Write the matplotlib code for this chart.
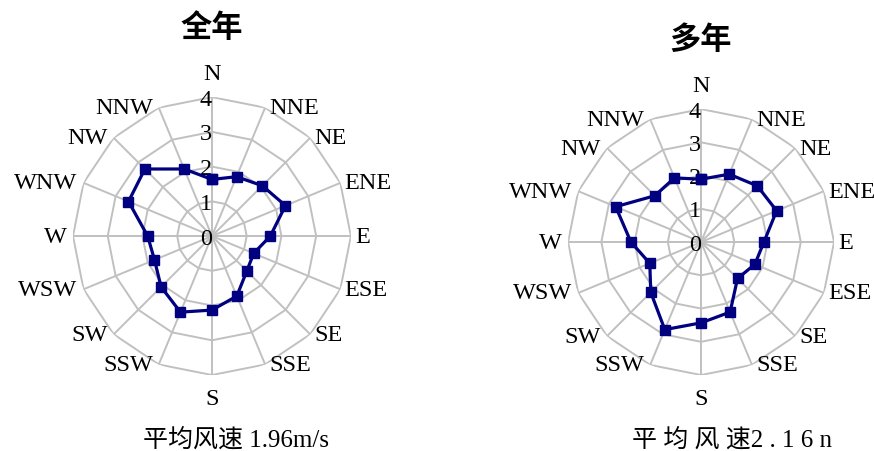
import numpy as np
import matplotlib
matplotlib.use("Agg")
import matplotlib.pyplot as plt

plt.rcParams['font.family'] = ['Liberation Serif', 'Noto Sans CJK SC']

directions = ['N', 'NNE', 'NE', 'ENE', 'E', 'ESE', 'SE', 'SSE',
              'S', 'SSW', 'SW', 'WSW', 'W', 'WNW', 'NW', 'NNW']
annual_speed = [1.63, 1.85, 2.05, 2.29, 1.68, 1.30, 1.42, 1.87,
                2.13, 2.37, 2.07, 1.79, 1.85, 2.60, 2.73, 2.09]
multiyear_speed = [1.89, 2.21, 2.39, 2.46, 1.89, 1.75, 1.55, 2.28,
                   2.43, 2.85, 2.14, 1.67, 2.11, 2.78, 1.97, 2.09]
radial_ticks = [0, 1, 2, 3, 4]
titles = ['全年', '多年']
captions = ['平均风速 1.96m/s', '平 均 风 速2 . 1 6 n']

GRID = '#c0c0c0'
LINE = '#000080'
LABEL_SIZE = 17.5

fig = plt.figure(figsize=(8.74, 4.52), dpi=100)


def rose(rect, values, title, title_y):
    ax = fig.add_axes(rect, projection='polar')
    ax.set_theta_zero_location('N')
    ax.set_theta_direction(-1)
    ax.set_ylim(0, 4)
    ax.grid(False)
    ax.spines['polar'].set_visible(False)
    ax.set_xticks([])
    ax.set_yticks([])
    ax.patch.set_alpha(0)

    n = len(directions)
    theta = np.arange(n) * 2 * np.pi / n
    closed = np.append(theta, theta[0])

    # polygonal rings and spokes
    for r in radial_ticks[1:]:
        ax.plot(closed, [r] * (n + 1), color=GRID, lw=1.4, zorder=1)
    for t in theta:
        ax.plot([t, t], [0, 4], color=GRID, lw=1.4, zorder=1)

    # radial scale labels along the north spoke
    for r in radial_ticks:
        ax.annotate(str(r), xy=(0, r), xytext=(0, -2), textcoords='offset pixels',
                    ha='right', va='center', fontsize=LABEL_SIZE, zorder=2)

    # direction labels just outside the outer ring
    for t, name in zip(theta, directions):
        deg = np.degrees(t)
        if np.isclose(deg, 0):
            ha, va, off = 'center', 'bottom', (0, 13)
        elif np.isclose(deg, 180):
            ha, va, off = 'center', 'top', (0, -13)
        elif deg < 180:
            ha, va, off = 'left', 'center', (4, 0)
        else:
            ha, va, off = 'right', 'center', (-6, 0)
        ax.annotate(name, xy=(t, 4), xytext=off, textcoords='offset pixels',
                    ha=ha, va=va, fontsize=LABEL_SIZE)

    vals = list(values) + [values[0]]
    ax.plot(closed, vals, color=LINE, lw=2.3, marker='s', markersize=7,
            zorder=3, clip_on=False)

    cx = rect[0] + rect[2] / 2
    fig.text(cx, title_y, title, ha='center', va='center', fontsize=22.5,
             fontweight='bold', family=['Noto Sans CJK SC'])
    return ax


rose([0.0835, 0.168, 0.318, 0.615], annual_speed, titles[0], 1 - 28 / 452)
rose([0.650, 0.168, 0.3043, 0.5885], multiyear_speed, titles[1], 1 - 40 / 452)

fig.text(143 / 874, 1 - 440 / 452, captions[0], ha='left', va='center',
         fontsize=18)
fig.text(632 / 874, 1 - 440 / 452, captions[1], ha='left', va='center',
         fontsize=18)

fig.savefig('out.png', dpi=100, facecolor='white')
